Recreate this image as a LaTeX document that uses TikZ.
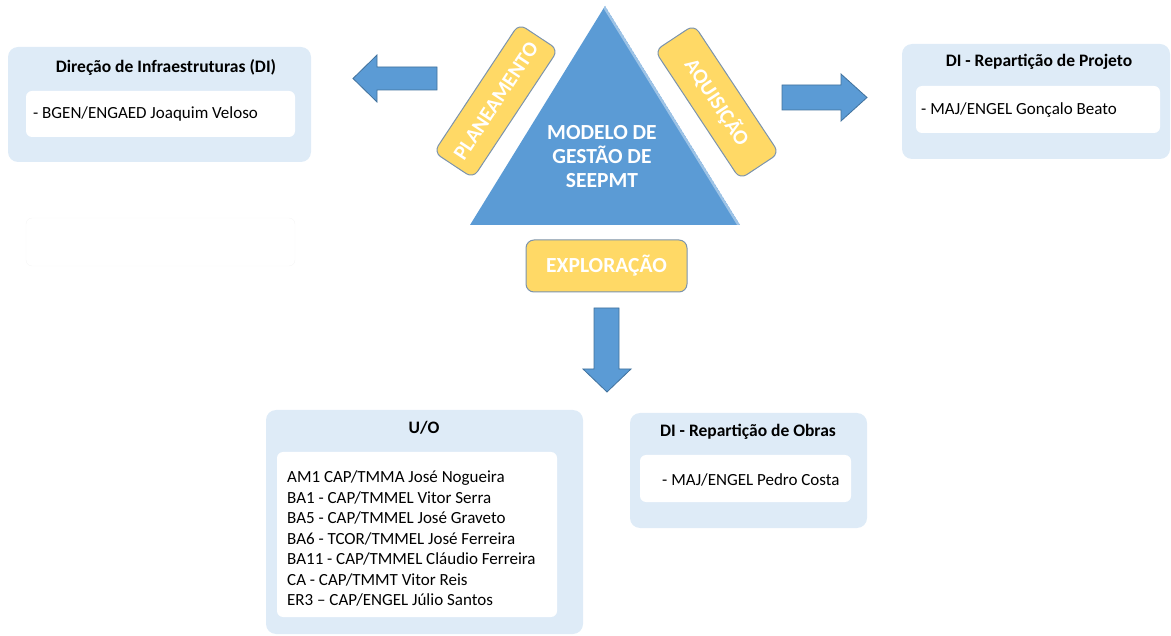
\documentclass[tikz,border=0pt]{standalone}
\usepackage{fontspec}
\setmainfont{Carlito}
\definecolor{panelblue}{HTML}{DEEBF7}
\definecolor{midblue}{HTML}{5B9BD5}
\definecolor{edgeblue}{HTML}{41719C}
\definecolor{lightedge}{HTML}{9DC3E6}
\definecolor{gold}{HTML}{FFD966}
\definecolor{goldedge}{HTML}{7B93AD}
\begin{document}
\begin{tikzpicture}[x=1pt,y=-1pt,
  panel/.style={rectangle, rounded corners=10pt, fill=panelblue, inner sep=0pt},
  card/.style={rectangle, rounded corners=6pt, fill=white, inner sep=0pt},
  head/.style={inner sep=0pt, font=\fontsize{17.5}{20}\selectfont\bfseries},
  body/.style={inner sep=0pt, font=\fontsize{17}{20}\selectfont},
  tag/.style={rectangle, rounded corners=8pt, fill=gold, draw=goldedge, line width=1pt,
    text=white, font=\fontsize{21}{24}\selectfont\bfseries, inner sep=0pt},
  blockarrow/.style={fill=midblue, draw=edgeblue, line width=0.8pt, line join=miter}]
\useasboundingbox (0,0) rectangle (1171,636);

% Direção de Infraestruturas
\node[panel, minimum width=303, minimum height=115] (di) at (159.5,104.5) {};
\node[card, minimum width=269, minimum height=46] (dicard) at (160.5,114) {};
\node[head] (dititle) at (166,67) {Direção de Infraestruturas (DI)};
\node[body, anchor=west] (ditext) at (33,114) {- BGEN/ENGAED Joaquim Veloso};

% empty placeholder card
\node[rectangle, rounded corners=6pt, draw=black!4, minimum width=269, minimum height=48] (blank) at (160.5,242) {};

% Repartição de Projeto
\node[panel, minimum width=268, minimum height=115] (rp) at (1036,101.5) {};
\node[card, minimum width=244, minimum height=47] (rpcard) at (1038,109.5) {};
\node[head] (rptitle) at (1039,62) {DI - Repartição de Projeto};
\node[body, anchor=west] (rptext) at (921,110) {- MAJ/ENGEL Gonçalo Beato};

% U/O
\node[panel, minimum width=317, minimum height=224] (uo) at (424.5,522) {};
\node[card, minimum width=280, minimum height=165] (uocard) at (417,534.5) {};
\node[head] (uotitle) at (424,428) {U/O};
\node[body, anchor=west, align=left, font=\fontsize{17}{20.5}\selectfont] (uotext) at (287,538.5)
  {AM1 CAP/TMMA José Nogueira\\
   BA1 - CAP/TMMEL Vitor Serra\\
   BA5 - CAP/TMMEL José Graveto\\
   BA6 - TCOR/TMMEL José Ferreira\\
   BA11 - CAP/TMMEL Cláudio Ferreira\\
   CA - CAP/TMMT Vitor Reis\\
   ER3 – CAP/ENGEL Júlio Santos};

% Repartição de Obras
\node[panel, minimum width=237, minimum height=115] (ro) at (748.5,470.5) {};
\node[card, minimum width=211, minimum height=47] (rocard) at (745.5,478.5) {};
\node[head] (rotitle) at (748,432) {DI - Repartição de Obras};
\node[body, anchor=west] (rotext) at (662,480) {- MAJ/ENGEL Pedro Costa};

% central triangle with a lighter right edge
\begin{scope}
  \path[clip] (605,6) -- (740,225) -- (470,225) -- cycle;
  \fill[midblue] (605,6) -- (740,225) -- (470,225) -- cycle;
  \draw[lightedge, line width=5pt] (605,6) -- (740,225);
\end{scope}
\node[text=white, align=center, inner sep=0pt,
  font=\fontsize{21.5}{24}\selectfont\bfseries] (model) at (602,157)
  {MODELO DE\\GESTÃO DE\\SEEPMT};

% phase tags
\node[tag, rotate=56.5, minimum width=154, minimum height=47] (plan) at (496,101) {PLANEAMENTO};
\node[tag, rotate=-56.5, minimum width=154, minimum height=47] (acq) at (717,102) {AQUISIÇÃO};
\node[tag, font=\fontsize{21.5}{24}\selectfont\bfseries, minimum width=161, minimum height=52] (expl) at (606.5,266) {EXPLORAÇÃO};

% block arrows
\draw[blockarrow] (437,67) -- (377,67) -- (377,55) -- (353,78.5) -- (377,102) -- (377,90) -- (437,90) -- cycle;
\draw[blockarrow] (782,85) -- (841,85) -- (841,74) -- (867,97.5) -- (841,121) -- (841,110) -- (782,110) -- cycle;
\draw[blockarrow] (594,308) -- (619,308) -- (619,369) -- (631,369) -- (607,392) -- (583,369) -- (594,369) -- cycle;
\end{tikzpicture}
\end{document}
